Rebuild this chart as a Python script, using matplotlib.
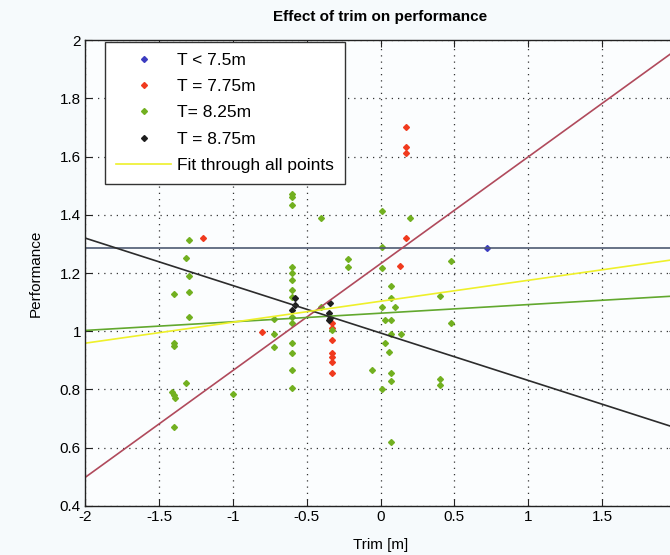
import matplotlib
matplotlib.use("Agg")
import matplotlib.pyplot as plt
import numpy as np

plt.rcParams['font.family'] = ['Liberation Sans', 'DejaVu Sans']

# ---- data ----
blue_x = [0.72]
blue_y = [1.285]

red_x = [-1.2, -0.8, -0.33, -0.33, -0.33, -0.33, -0.33, -0.33, -0.33, 0.13, 0.17, 0.17, 0.17, 0.17]
red_y = [1.32, 0.997, 1.027, 1.01, 0.97, 0.924, 0.911, 0.893, 0.856, 1.223, 1.32, 1.70, 1.632, 1.612]

green_x = [-1.3, -1.32, -1.3, -1.4, -1.3, -1.3, -1.4, -1.4, -1.32, -1.41, -1.4, -1.39, -1.0, -1.4,
           -0.72, -0.72, -0.72,
           -0.6, -0.6, -0.6, -0.4, -0.22, -0.22,
           -0.6, -0.6, -0.6, -0.6, -0.6, -0.6, -0.6, -0.6, -0.6, -0.6, -0.6,
           -0.4, -0.33,
           0.01, 0.2, 0.01, 0.01, 0.07, 0.07, 0.01, 0.1, 0.03, 0.07, 0.07, 0.14, 0.03, 0.06, -0.06, 0.07, 0.07, 0.01, 0.07,
           0.48, 0.4, 0.48, 0.4, 0.4]
green_y = [1.315, 1.251, 1.189, 1.127, 1.134, 1.048, 0.96, 0.95, 0.821, 0.79, 0.78, 0.77, 0.783, 0.67,
           1.041, 0.99, 0.945,
           1.47, 1.46, 1.433, 1.388, 1.247, 1.22,
           1.22, 1.2, 1.175, 1.141, 1.117, 1.048, 1.027, 0.96, 0.924, 0.866, 0.804,
           1.082, 1.005,
           1.412, 1.388, 1.289, 1.216, 1.155, 1.113, 1.082, 1.082, 1.038, 1.04, 0.99, 0.99, 0.959, 0.928, 0.866, 0.856, 0.83, 0.8, 0.619,
           1.24, 1.12, 1.027, 0.835, 0.815]

black_x = [-0.58, -0.58, -0.6, -0.345, -0.35, -0.345, -0.35]
black_y = [1.113, 1.09, 1.072, 1.096, 1.062, 1.045, 1.04]

# fit lines: (intercept, slope)
fit_names = ['blue', 'red', 'green', 'black', 'all']
fit_intercepts = [1.287, 1.232, 1.062, 0.994, 1.103]
fit_slopes = [0.0, 0.367, 0.0296, -0.163, 0.072]

x_ticks = [-2, -1.5, -1, -0.5, 0, 0.5, 1, 1.5, 2]
x_ticklabels = ['-2', '-1.5', '-1', '-0.5', '0', '0.5', '1', '1.5', '']
y_ticks = [0.4, 0.6, 0.8, 1.0, 1.2, 1.4, 1.6, 1.8, 2.0]
y_ticklabels = ['0.4', '0.6', '0.8', '1', '1.2', '1.4', '1.6', '1.8', '2']

# ---- figure ----
fig = plt.figure(figsize=(6.7, 5.55), dpi=100, facecolor='#f6fafc')
ax = fig.add_axes([0.127, 0.0883, 0.882, 0.8396])
ax.set_facecolor('#fbfdfe')

mk = dict(marker='D', markersize=3.0, linestyle='none')
ax.plot(blue_x, blue_y, color='#3c3cc0', label='T < 7.5m', **mk)
ax.plot(red_x, red_y, color='#f03a1e', label='T = 7.75m', **mk)
ax.plot(green_x, green_y, color='#72b020', label='T= 8.25m', **mk)
ax.plot(black_x, black_y, color='#1e1e1e', label='T = 8.75m', **mk)

xx = np.array([-2.0, 2.0])
line_colors = ['#4e5a72', '#b04a5c', '#62a82e', '#2c2c2c', '#eef02a']
for name, b, m, c in zip(fit_names, fit_intercepts, fit_slopes, line_colors):
    lab = 'Fit through all points' if name == 'all' else None
    ax.plot(xx, b + m * xx, color=c, linewidth=1.2, label=lab)

ax.set_xlim(-2, 2)
ax.set_ylim(0.4, 2)
ax.set_xticks(x_ticks)
ax.set_xticklabels(x_ticklabels)
ax.set_yticks(y_ticks)
ax.set_yticklabels(y_ticklabels)
ax.grid(True, linestyle=(0, (1, 4)), color='#333333', linewidth=0.9)
ax.tick_params(direction='in', length=5, top=True, right=True, labelsize=11, pad=3, color='#222222')
for s in ax.spines.values():
    s.set_color('#222222')
    s.set_linewidth(1.0)

ax.set_title('Effect of trim on performance', fontsize=11, fontweight='bold', pad=14, x=0.5)
ax.set_xlabel('Trim [m]', fontsize=11, labelpad=10)
ax.set_ylabel('Performance', fontsize=11, labelpad=12)

leg = ax.legend(loc='upper left', bbox_to_anchor=(0.033, 0.996), fontsize=12.5, handlelength=3.2,
                labelspacing=0.63, borderpad=0.65, handletextpad=0.3, fancybox=False,
                framealpha=1, edgecolor='#333333', facecolor='white', numpoints=1, borderaxespad=0.0)
leg.get_frame().set_linewidth(1.0)

fig.savefig('out.png', dpi=100, facecolor=fig.get_facecolor())
